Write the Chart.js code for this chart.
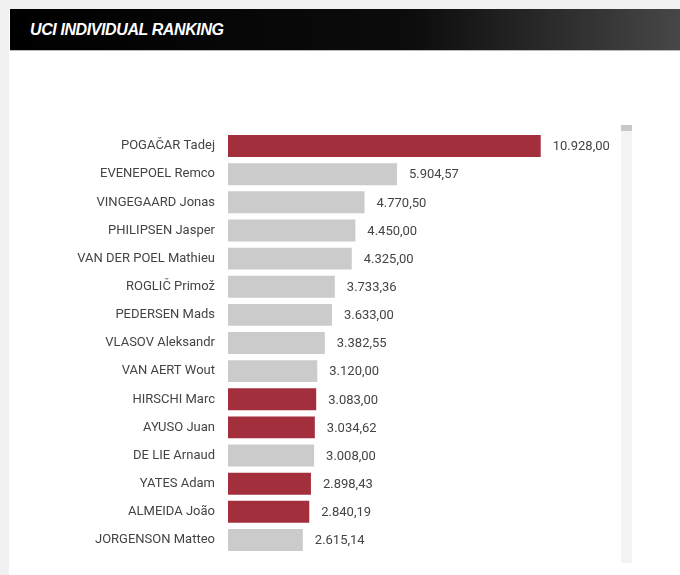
<!DOCTYPE html>
<html>
<head>
<meta charset="utf-8">
<script src="https://cdn.jsdelivr.net/npm/chart.js@4/dist/chart.umd.min.js"></script>
<style>
  html, body { margin: 0; padding: 0; }
  body { width: 680px; height: 575px; background: #f1f1f1; position: relative; overflow: hidden; }
  .panel { position: absolute; left: 9px; top: 9px; right: 0; bottom: 0; background: #fff; }
  .header {
    position: absolute; left: 10px; top: 9px; width: 670px; height: 41px;
    background: linear-gradient(to right, #000 0%, #0c0c0c 60%, #474747 100%);
    border-bottom: 1px solid #bbb;
  }
  .header span {
    position: absolute; left: 20px; top: 12px;
    font: italic bold 16px "Liberation Sans", Arial, sans-serif; color: #fff; letter-spacing: -0.4px;
  }
  .track { position: absolute; left: 621px; top: 125px; width: 11px; height: 438px; background: #f4f4f4; }
  .thumb { position: absolute; left: 621px; top: 125px; width: 11px; height: 6px; background: #c8c8c8; }
  #ranking { position: absolute; left: 10px; top: 132px; }
</style>
</head>
<body>
<div class="panel"></div>
<div class="header"><span>UCI INDIVIDUAL RANKING</span></div>
<div class="track"></div>
<div class="thumb"></div>
<canvas id="ranking" width="670" height="422"></canvas>
<script>
// UCI individual ranking
const riders = ['POGAČAR Tadej', 'EVENEPOEL Remco', 'VINGEGAARD Jonas', 'PHILIPSEN Jasper',
    'VAN DER POEL Mathieu', 'ROGLIČ Primož', 'PEDERSEN Mads', 'VLASOV Aleksandr', 'VAN AERT Wout',
    'HIRSCHI Marc', 'AYUSO Juan', 'DE LIE Arnaud', 'YATES Adam', 'ALMEIDA João', 'JORGENSON Matteo'];
const points = [10928.00, 5904.57, 4770.50, 4450.00, 4325.00, 3733.36, 3633.00, 3382.55, 3120.00,
    3083.00, 3034.62, 3008.00, 2898.43, 2840.19, 2615.14];
// riders of the highlighted team
const highlighted = ['POGAČAR Tadej', 'HIRSCHI Marc', 'AYUSO Juan', 'YATES Adam', 'ALMEIDA João'];

const fontFamily = 'Roboto, sans-serif';

function formatPoints(v) {
    const parts = v.toFixed(2).split('.');
    const int = parts[0].replace(/\B(?=(\d{3})+(?!\d))/g, '.');
    return int + ',' + parts[1];
}

// value label after each bar
const valueLabels = {
    id: 'valueLabels',
    afterDatasetsDraw(chart) {
        const ctx = chart.ctx;
        const meta = chart.getDatasetMeta(0);
        ctx.save();
        ctx.font = '13px ' + fontFamily;
        ctx.fillStyle = '#444';
        ctx.textBaseline = 'middle';
        meta.data.forEach((bar, i) => {
            ctx.fillText(formatPoints(points[i]), bar.x + 12, bar.y + 1);
        });
        ctx.restore();
    }
};

const ctx = document.getElementById('ranking').getContext('2d');
new Chart(ctx, {
    type: 'bar',
    data: {
        labels: riders,
        datasets: [{
            data: points,
            backgroundColor: riders.map(r => highlighted.includes(r) ? '#a32e3c' : '#cbcbcb'),
            categoryPercentage: 1,
            barPercentage: 0.78
        }]
    },
    options: {
        indexAxis: 'y',
        responsive: false,
        animation: false,
        layout: { padding: { left: 0, top: 0, bottom: 0, right: 80 } },
        plugins: {
            legend: { display: false },
            tooltip: { enabled: false }
        },
        scales: {
            x: { display: false, min: 0, max: 13000 },
            y: {
                afterFit(scale) {
                    scale.width = 218;
                    scale.paddingTop = 0;
                    scale.paddingBottom = 0;
                },
                grid: { display: false, drawTicks: false },
                border: { display: false },
                ticks: { color: '#444', padding: 13, font: { family: fontFamily, size: 13 } }
            }
        }
    },
    plugins: [valueLabels]
});
</script>
</body>
</html>
